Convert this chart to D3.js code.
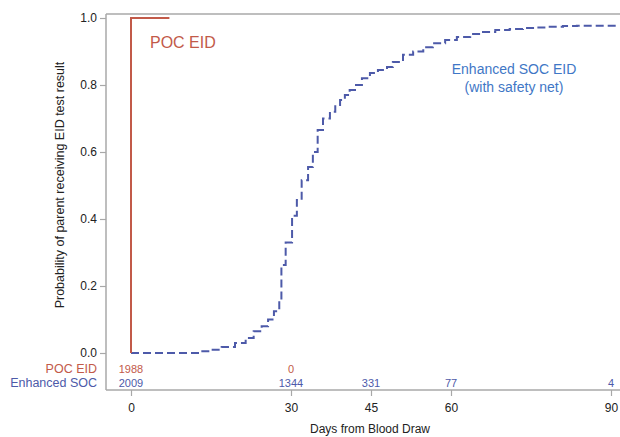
<!DOCTYPE html>
<html><head><meta charset="utf-8">
<script src="https://cdn.jsdelivr.net/npm/d3@7"></script>
<style>body{margin:0;background:#fff}svg{display:block;font-family:"Liberation Sans",Arial,sans-serif}</style>
</head><body><svg id="c" width="620" height="437"></svg>
<script>
// ---- data ----
const pocDays = [0, 0, 7.2];
const pocProb = [0, 1.0, 1.0];
const socDays = [0, 13, 15, 17, 19.5, 21.5, 23, 24.5, 25.7, 26.8, 27.8, 28.2, 29, 30.2, 31.1, 32, 33.2, 34.1, 35, 36, 37.3, 38.3, 39.2, 40.1, 41, 42, 43.3, 44.8, 46.3, 48, 49.1, 51, 52.9, 54.8, 56.6, 58.9, 61.1, 63.6, 66, 68.3, 71, 73.5, 75.8, 78.2, 81, 83.6, 91.5];
const socProb = [0, 0.005, 0.01, 0.018, 0.03, 0.045, 0.065, 0.08, 0.10, 0.125, 0.155, 0.263, 0.33, 0.41, 0.457, 0.516, 0.555, 0.60, 0.666, 0.70, 0.72, 0.74, 0.755, 0.77, 0.785, 0.80, 0.82, 0.836, 0.845, 0.854, 0.869, 0.89, 0.90, 0.913, 0.925, 0.934, 0.943, 0.952, 0.958, 0.964, 0.967, 0.970, 0.972, 0.974, 0.976, 0.977, 0.977];
const xTicks = [0, 30, 45, 60, 90];
const yTicks = [0, 0.2, 0.4, 0.6, 0.8, 1.0];
const riskLabels = ["POC EID", "Enhanced SOC"];
const riskPocDays = [0, 30];
const riskPocN = [1988, 0];
const riskSocDays = [0, 30, 45, 60, 90];
const riskSocN = [2009, 1344, 331, 77, 4];

const red = "#c25a49", blue = "#4d5aa9", textBlue = "#3f77c6", axisCol = "#a8a8a8";
const svg = d3.select("#c");
const x = d3.scaleLinear().domain([0, 90]).range([131, 611]);
const y = d3.scaleLinear().domain([0, 1]).range([353, 18]);

// frame
svg.append("line").attr("x1",106).attr("x2",620).attr("y1",14).attr("y2",14).attr("stroke",axisCol).attr("stroke-width",1.5);
svg.append("line").attr("x1",106).attr("x2",106).attr("y1",14).attr("y2",390).attr("stroke",axisCol).attr("stroke-width",1.5);
svg.append("line").attr("x1",106).attr("x2",620).attr("y1",390).attr("y2",390).attr("stroke",axisCol).attr("stroke-width",1.5);

// y axis
const ya = svg.append("g").attr("transform","translate(106,0)")
  .call(d3.axisLeft(y).tickValues(yTicks).tickFormat(d3.format(".1f")).tickSize(6).tickPadding(3));
ya.select(".domain").remove();
ya.selectAll("line").attr("stroke",axisCol).attr("stroke-width",1.2);
ya.selectAll("text").attr("font-size",12).attr("fill","#222").attr("font-family","Liberation Sans, Arial, sans-serif");

// x axis
const xa = svg.append("g").attr("transform","translate(0,390)")
  .call(d3.axisBottom(x).tickValues(xTicks).tickFormat(d3.format("d")).tickSize(6).tickPadding(7));
xa.select(".domain").remove();
xa.selectAll("line").attr("stroke",axisCol).attr("stroke-width",1.2);
xa.selectAll("text").attr("font-size",12).attr("fill","#222").attr("font-family","Liberation Sans, Arial, sans-serif");

// titles
svg.append("text").attr("x",370).attr("y",433).attr("text-anchor","middle").attr("font-size",12).attr("fill","#222").text("Days from Blood Draw");
svg.append("text").attr("transform","translate(64,185) rotate(-90)").attr("text-anchor","middle").attr("font-size",12.5).attr("fill","#222").text("Probability of parent receiving EID test result");

// curves
const line = d3.line().curve(d3.curveStepAfter).x(d=>x(d[0])).y(d=>y(d[1]));
svg.append("path").datum(socDays.map((d,i)=>[d,socProb[i]])).attr("d",line)
  .attr("fill","none").attr("stroke",blue).attr("stroke-width",2).attr("stroke-dasharray","8,4");
svg.append("path").datum(pocDays.map((d,i)=>[d,pocProb[i]])).attr("d",line)
  .attr("fill","none").attr("stroke",red).attr("stroke-width",2);

// annotations
svg.append("text").attr("x",150).attr("y",48).attr("font-size",16).attr("fill",red).text("POC EID");
svg.append("text").attr("x",514).attr("y",74).attr("text-anchor","middle").attr("font-size",14).attr("fill",textBlue).text("Enhanced SOC EID");
svg.append("text").attr("x",514).attr("y",92).attr("text-anchor","middle").attr("font-size",14).attr("fill",textBlue).text("(with safety net)");

// risk table
const rowY = [373, 387];
const rowCol = [red, blue];
riskLabels.forEach((l,i)=>{
  svg.append("text").attr("x",97).attr("y",rowY[i]).attr("text-anchor","end").attr("font-size",12.5).attr("fill",rowCol[i]).text(l);
});
svg.append("g").selectAll("text").data(riskPocDays).join("text")
  .attr("x",d=>x(d)).attr("y",rowY[0]).attr("text-anchor","middle").attr("font-size",11).attr("fill",red).text((d,i)=>riskPocN[i]);
svg.append("g").selectAll("text").data(riskSocDays).join("text")
  .attr("x",d=>x(d)).attr("y",rowY[1]).attr("text-anchor","middle").attr("font-size",11).attr("fill",blue).text((d,i)=>riskSocN[i]);
</script></body></html>
